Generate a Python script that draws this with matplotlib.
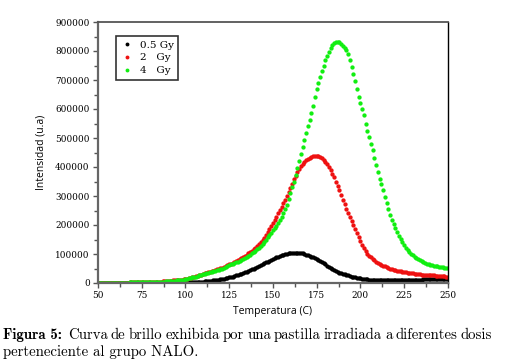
import numpy as np
import matplotlib
matplotlib.use("Agg")
import matplotlib.pyplot as plt
from matplotlib.ticker import MultipleLocator

# Temperature (C), 1 degree steps
temperature = list(range(50, 251))

# Intensities in thousands (u.a / 1000)
dose_05 = [
    0, 0, 0, 0, 0, 0, 0, 0, 0, 0,
    0, 0, 0, 0, 0, 0, 0, 0, 0, 0,
    0, 0, 0, 0, 0, 0, 0, 0, 0, 0,
    0, 0, 0, 0, 0, 0, 0, 0, 0, 0,
    0, 0, 0, 0, 0, 0, 0, 0, 0, 0,
    1, 1, 2, 2, 3, 3, 3, 4, 4, 5,
    5, 6, 6, 7, 8, 8, 9, 10, 11, 12,
    13, 14, 15, 16, 17, 19, 20, 22, 24, 26,
    28, 30, 32, 34, 37, 39, 41, 44, 47, 50,
    53, 56, 59, 62, 65, 68, 71, 74, 77, 80,
    83, 86, 88, 91, 93, 95, 97, 99, 101, 102,
    103, 104, 105, 105, 105, 104, 103, 102, 100, 98,
    96, 94, 91, 88, 85, 82, 79, 76, 72, 68,
    64, 60, 56, 52, 48, 45, 42, 39, 36, 34,
    32, 30, 28, 26, 24, 22, 21, 19, 18, 17,
    16, 15, 14, 13, 13, 12, 12, 11, 11, 11,
    10, 10, 10, 10, 9, 9, 9, 9, 9, 9,
    9, 9, 9, 10, 10, 10, 10, 10, 11, 11,
    11, 11, 12, 12, 12, 12, 13, 13, 13, 13,
    13, 14, 14, 14, 14, 14, 15, 15, 15, 15,
    15,
]

dose_2 = [
    1, 1, 1, 1, 1, 1, 1, 1, 1, 1,
    1, 1, 1, 1, 1, 1, 1, 1, 2, 2,
    2, 2, 2, 2, 2, 2, 3, 3, 3, 3,
    3, 4, 4, 4, 5, 5, 5, 6, 6, 7,
    7, 8, 8, 9, 9, 10, 10, 11, 12, 13,
    14, 15, 17, 18, 20, 21, 23, 25, 27, 29,
    31, 33, 35, 37, 39, 41, 43, 45, 47, 49,
    51, 53, 56, 58, 61, 64, 67, 70, 73, 76,
    79, 82, 86, 90, 94, 98, 102, 107, 112, 117,
    122, 128, 134, 141, 148, 155, 165, 175, 185, 196,
    207, 218, 229, 240, 251, 263, 275, 287, 300, 314,
    328, 343, 357, 370, 382, 393, 402, 410, 417, 423,
    428, 432, 435, 437, 438, 438, 437, 434, 430, 425,
    418, 410, 400, 389, 377, 364, 350, 335, 319, 302,
    286, 271, 256, 242, 228, 214, 200, 186, 172, 158,
    145, 132, 120, 110, 101, 94, 88, 83, 78, 74,
    70, 66, 63, 60, 57, 55, 52, 50, 48, 46,
    45, 43, 42, 40, 39, 38, 37, 36, 35, 34,
    33, 32, 31, 31, 30, 29, 29, 28, 28, 27,
    27, 26, 26, 25, 25, 24, 24, 23, 23, 22,
    22,
]

dose_4 = [
    1, 1, 1, 1, 1, 1, 1, 1, 1, 1,
    1, 1, 1, 1, 1, 1, 1, 1, 2, 2,
    2, 2, 2, 2, 2, 2, 3, 3, 3, 3,
    3, 3, 4, 4, 4, 4, 5, 5, 5, 6,
    6, 7, 7, 8, 8, 9, 9, 10, 11, 12,
    13, 14, 16, 17, 19, 20, 22, 24, 26, 28,
    30, 32, 34, 36, 37, 39, 41, 43, 44, 46,
    48, 50, 53, 56, 59, 62, 64, 67, 69, 71,
    73, 75, 78, 82, 85, 89, 93, 97, 102, 107,
    112, 117, 122, 128, 135, 142, 150, 158, 166, 174,
    183, 190, 198, 207, 217, 228, 240, 254, 270, 289,
    310, 330, 350, 372, 395, 420, 445, 470, 494, 518,
    540, 562, 585, 610, 640, 668, 690, 710, 730, 750,
    768, 784, 798, 810, 820, 826, 830, 832, 830, 825,
    818, 812, 805, 790, 770, 745, 720, 695, 668, 642,
    620, 600, 578, 550, 524, 502, 480, 458, 432, 406,
    382, 360, 340, 320, 298, 276, 255, 236, 218, 202,
    188, 175, 163, 152, 140, 130, 121, 113, 106, 100,
    95, 90, 86, 82, 78, 75, 72, 69, 67, 65,
    63, 61, 59, 58, 57, 56, 55, 54, 53, 52,
    52,
]

series_labels = ["0.5 Gy", "2   Gy", "4   Gy"]
series_colors = ["#000000", "#ee1111", "#11ee11"]

x_ticks = [50, 75, 100, 125, 150, 175, 200, 225, 250]
y_ticks = [0, 100000, 200000, 300000, 400000, 500000, 600000, 700000, 800000, 900000]

caption_bold = "Figura 5:"
caption_line1 = "Curva de brillo exhibida por una pastilla irradiada a diferentes dosis"
caption_line2 = "perteneciente al grupo NALO."

W, H = 506, 362
fig = plt.figure(figsize=(W / 100, H / 100), dpi=100)
ax = fig.add_axes([98 / W, 1 - 283 / H, 350 / W, 261 / H])

for vals, lab, col in zip([dose_05, dose_2, dose_4], series_labels, series_colors):
    ax.plot(temperature, np.array(vals) * 1000, linestyle="none", marker="o",
            markersize=3.1, markeredgewidth=0, color=col, label=lab)

ax.set_xlim(50, 250)
ax.set_ylim(0, 900000)
ax.set_xticks(x_ticks)
ax.set_yticks(y_ticks)
ax.set_xticklabels([str(v) for v in x_ticks], fontfamily="DejaVu Serif", fontsize=6.4)
ax.set_yticklabels([str(v) for v in y_ticks], fontfamily="DejaVu Serif", fontsize=6.4)
ax.xaxis.set_minor_locator(MultipleLocator(12.5))
ax.yaxis.set_minor_locator(MultipleLocator(50000))
ax.tick_params(which="both", direction="out", color="#555555", width=1.0, length=3.5, pad=2.5)
ax.tick_params(which="minor", length=3.0)

for side in ["left", "bottom"]:
    ax.spines[side].set_color("#666666")
    ax.spines[side].set_linewidth(1.6)
ax.spines["top"].set_color("#555555")
ax.spines["top"].set_linewidth(1.3)
ax.spines["right"].set_color("#000000")
ax.spines["right"].set_linewidth(1.0)

ax.set_xlabel("Temperatura (C)", fontfamily="Open Sans", fontsize=7.5, labelpad=4)
ax.set_ylabel("Intensidad (u.a)", fontfamily="Open Sans", fontsize=7.5, labelpad=6)

leg = ax.legend(loc="upper left", bbox_to_anchor=(0.051, 0.946), borderaxespad=0,
                prop={"family": "DejaVu Serif", "size": 7.5}, frameon=True, fancybox=False,
                handlelength=1.3, handletextpad=0.6, labelspacing=0.35, borderpad=0.4,
                markerscale=0.9)
leg.get_frame().set_edgecolor("#000000")
leg.get_frame().set_linewidth(1.2)

# Caption, justified like the source document
fig.canvas.draw()
renderer = fig.canvas.get_renderer()


def text_width(s, size, family):
    t = fig.text(0, 0, s, fontsize=size, fontfamily=family)
    w = t.get_window_extent(renderer).width
    t.remove()
    return w


cap_family = "cmr10"
base = 10.0
s_reg = 176.0 / text_width(caption_line2, base, cap_family)
s_bold = 65.0 / text_width(caption_bold, base, "cmb10")
cap_size = base * (s_reg + s_bold) / 2.0

y1 = 1 - 335 / H
y2 = 1 - 352 / H
bw = text_width(caption_bold, cap_size, "cmb10")
fig.text(3 / W, y1, caption_bold, fontfamily="cmb10", fontsize=cap_size, va="center", ha="left")
words = caption_line1.split()
widths = [text_width(wd, cap_size, cap_family) for wd in words]
x_start, x_end = 3 + bw + 6, 492.0
gap = (x_end - x_start - sum(widths)) / (len(words) - 1)
x = x_start
for wd, wdt in zip(words, widths):
    fig.text(x / W, y1, wd, fontfamily=cap_family, fontsize=cap_size, va="center", ha="left")
    x += wdt + gap
fig.text(3 / W, y2, caption_line2, fontfamily=cap_family, fontsize=cap_size, va="center", ha="left")

fig.savefig("out.png", dpi=100)
